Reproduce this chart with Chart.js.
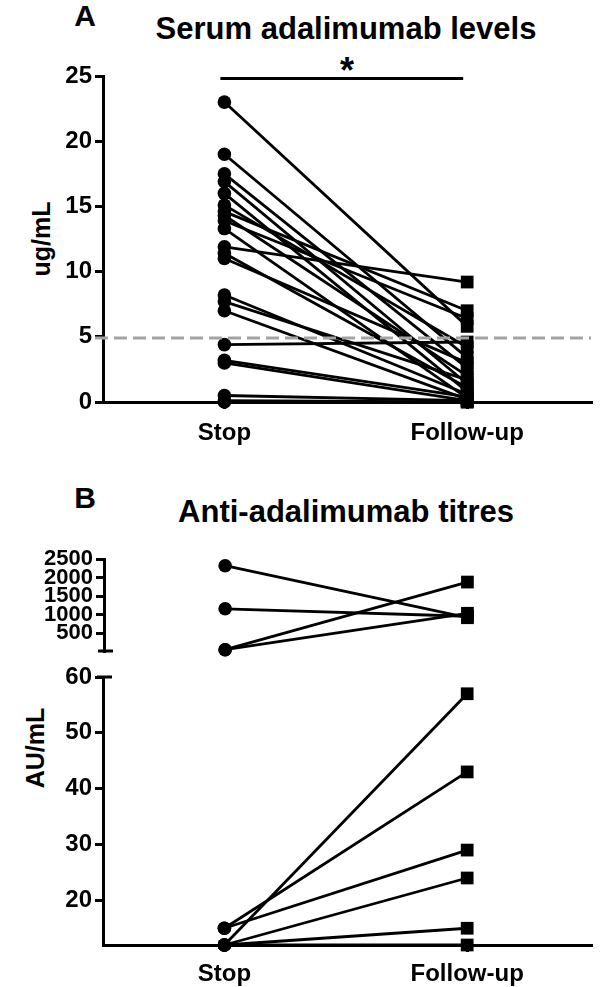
<!DOCTYPE html>
<html>
<head>
<meta charset="utf-8">
<script src="https://cdn.jsdelivr.net/npm/chart.js@4.4.1/dist/chart.umd.min.js"></script>
<style>
  html, body { margin: 0; padding: 0; background: #fff; }
  body { width: 600px; height: 987px; position: relative; overflow: hidden;
         font-family: "Liberation Sans", Arial, Helvetica, sans-serif; }
  canvas { position: absolute; left: 0; }
  .t { position: absolute; transform: translate(-50%, -50%); font-weight: bold;
       line-height: 1; white-space: nowrap; color: #000; }
  .r { transform: translate(-50%, -50%) rotate(-90deg); }
</style>
</head>
<body>
<div class="t" style="left:85px;top:16px;font-size:30px">A</div>
<div class="t" style="left:346px;top:28px;font-size:31px">Serum adalimumab levels</div>
<div class="t" style="left:347px;top:71px;font-size:36px">*</div>
<div class="t r" style="left:41px;top:239px;font-size:25px">ug/mL</div>

<div class="t" style="left:85px;top:498px;font-size:30px">B</div>
<div class="t" style="left:346px;top:511px;font-size:31px">Anti-adalimumab titres</div>
<div class="t r" style="left:35px;top:748px;font-size:25px">AU/mL</div>

<canvas id="cA" width="600" height="460" style="top:0px"></canvas>
<canvas id="cB1" width="600" height="130" style="top:530px"></canvas>
<canvas id="cB2" width="600" height="327" style="top:660px"></canvas>

<script>
// ---------------- data ----------------
const categories = ['Stop', 'Follow-up'];

// Panel A: serum adalimumab (ug/mL), one entry per patient
const serumStop   = [23, 19, 17.5, 16.9, 16.0, 15.1, 14.6, 14.3, 13.9, 13.3, 11.9, 11.4, 11.0, 8.2, 7.7, 7.0, 4.4, 3.2, 3.0, 0.5, 0.1, 0];
const serumFollow = [5.8, 3.4, 2.6, 1.4, 0.8, 4.2, 7.0, 2.0, 6.4, 0.3, 9.2, 1.1, 3.0, 0.6, 1.7, 0.2, 4.6, 0.4, 0.1, 0.1, 0, 0];
const serumTicks  = [0, 5, 10, 15, 20, 25];
const serumThreshold = 4.9;

// Panel B: anti-adalimumab titres (AU/mL), broken axis
const titreHighStop   = [2320, 1160, 60, 60];
const titreHighFollow = [920, 960, 1880, 1040];
const titreHighTicks  = [500, 1000, 1500, 2000, 2500];

const titreLowStop    = [12, 15, 15, 12, 12, 12];
const titreLowFollow  = [57, 43, 29, 24, 15, 12];
const titreLowTicks   = [20, 30, 40, 50, 60];

// ---------------- setup ----------------
Chart.defaults.font.family = '"Liberation Sans", Arial, Helvetica, sans-serif';
Chart.defaults.color = '#000';

const FONT_TICK = { size: 24, weight: 'bold' };
const FONT_TICK_SMALL = { size: 22, weight: 'bold' };

function pairDatasets(a, b) {
  return a.map((v, i) => ({
    data: [{ x: 0, y: v }, { x: 1, y: b[i] }],
    borderColor: '#000',
    borderWidth: 2.8,
    backgroundColor: '#000',
    pointBackgroundColor: '#000',
    pointBorderWidth: 0,
    pointStyle: ['circle', 'rect'],
    pointRadius: [6.8, 9],
    tension: 0,
    clip: false
  }));
}

function xScale(show, tickPad, height) {
  return {
    type: 'linear',
    min: -0.5, max: 1.51,
    display: show,
    afterBuildTicks: s => { s.ticks = [{ value: 0 }, { value: 1 }]; },
    afterFit: s => { if (height) s.height = height; s.paddingLeft = 0; s.paddingRight = 0; },
    ticks: {
      autoSkip: false,
      maxRotation: 0,
      padding: tickPad,
      font: FONT_TICK,
      color: '#000',
      callback: v => categories[v]
    },
    grid: { drawOnChartArea: false, drawTicks: true, tickLength: 7, color: '#000', lineWidth: 3 },
    border: { display: true, color: '#000', width: 3 }
  };
}

function yScale(min, max, ticks, width, font) {
  return {
    type: 'linear',
    min: min, max: max,
    afterBuildTicks: s => { s.ticks = ticks.map(v => ({ value: v })); },
    afterFit: s => { s.width = width; s.paddingTop = 0; s.paddingBottom = 0; },
    ticks: { autoSkip: false, padding: 3, font: font, color: '#000', callback: v => String(v) },
    grid: { drawOnChartArea: false, drawTicks: true, tickLength: 8, color: '#000', lineWidth: 3 },
    border: { display: true, color: '#000', width: 3 }
  };
}

const baseOpts = {
  responsive: false,
  animation: false,
  events: [],
  plugins: { legend: { display: false }, tooltip: { enabled: false }, title: { display: false } }
};

// threshold dashed line + significance bar for panel A
const panelAExtras = {
  id: 'panelAExtras',
  afterDatasetsDraw(chart) {
    const { ctx, chartArea, scales } = chart;
    const y = scales.y.getPixelForValue(serumThreshold);
    ctx.save();
    ctx.strokeStyle = '#a3a3a3';
    ctx.lineWidth = 3;
    ctx.setLineDash([13, 6]);
    ctx.beginPath();
    ctx.moveTo(chartArea.left - 8, y);
    ctx.lineTo(chartArea.right, y);
    ctx.stroke();
    ctx.restore();
  },
  afterDraw(chart) {
    const { ctx, scales } = chart;
    const y = scales.y.getPixelForValue(24.8);
    ctx.save();
    ctx.strokeStyle = '#000';
    ctx.lineWidth = 3;
    ctx.beginPath();
    ctx.moveTo(scales.x.getPixelForValue(0) - 4, y);
    ctx.lineTo(scales.x.getPixelForValue(1) - 4, y);
    ctx.stroke();
    ctx.restore();
  }
};

// axis-break caps
function breakCap(atTop) {
  return {
    id: 'breakCap' + (atTop ? 'T' : 'B'),
    afterDraw(chart) {
      const { ctx, chartArea } = chart;
      const y = atTop ? chartArea.top : chartArea.bottom;
      ctx.save();
      ctx.strokeStyle = '#000';
      ctx.lineWidth = 3;
      ctx.beginPath();
      ctx.moveTo(chartArea.left - 6, y);
      ctx.lineTo(chartArea.left + 9, y);
      ctx.stroke();
      ctx.restore();
    }
  };
}

// ---------------- Panel A ----------------
new Chart(document.getElementById('cA'), {
  type: 'line',
  data: { datasets: pairDatasets(serumStop, serumFollow) },
  options: Object.assign({}, baseOpts, {
    layout: { padding: { top: 76, right: 5, left: 0, bottom: 0 } },
    scales: {
      x: xScale(true, 10, 58),
      y: yScale(0, 25, serumTicks, 103, FONT_TICK)
    }
  }),
  plugins: [panelAExtras]
});

// ---------------- Panel B (upper segment) ----------------
new Chart(document.getElementById('cB1'), {
  type: 'line',
  data: { datasets: pairDatasets(titreHighStop, titreHighFollow) },
  options: Object.assign({}, baseOpts, {
    layout: { padding: { top: 29, right: 3, left: 0, bottom: 5 } },
    scales: {
      x: xScale(false, 0, 0),
      y: yScale(25, 2500, titreHighTicks, 104, FONT_TICK_SMALL)
    }
  }),
  plugins: [breakCap(false)]
});

// ---------------- Panel B (lower segment) ----------------
new Chart(document.getElementById('cB2'), {
  type: 'line',
  data: { datasets: pairDatasets(titreLowStop, titreLowFollow) },
  options: Object.assign({}, baseOpts, {
    layout: { padding: { top: 17, right: 3, left: 0, bottom: 0 } },
    scales: {
      x: xScale(true, 8, 42),
      y: yScale(12, 60, titreLowTicks, 103, FONT_TICK)
    }
  }),
  plugins: [breakCap(true)]
});
</script>
</body>
</html>
